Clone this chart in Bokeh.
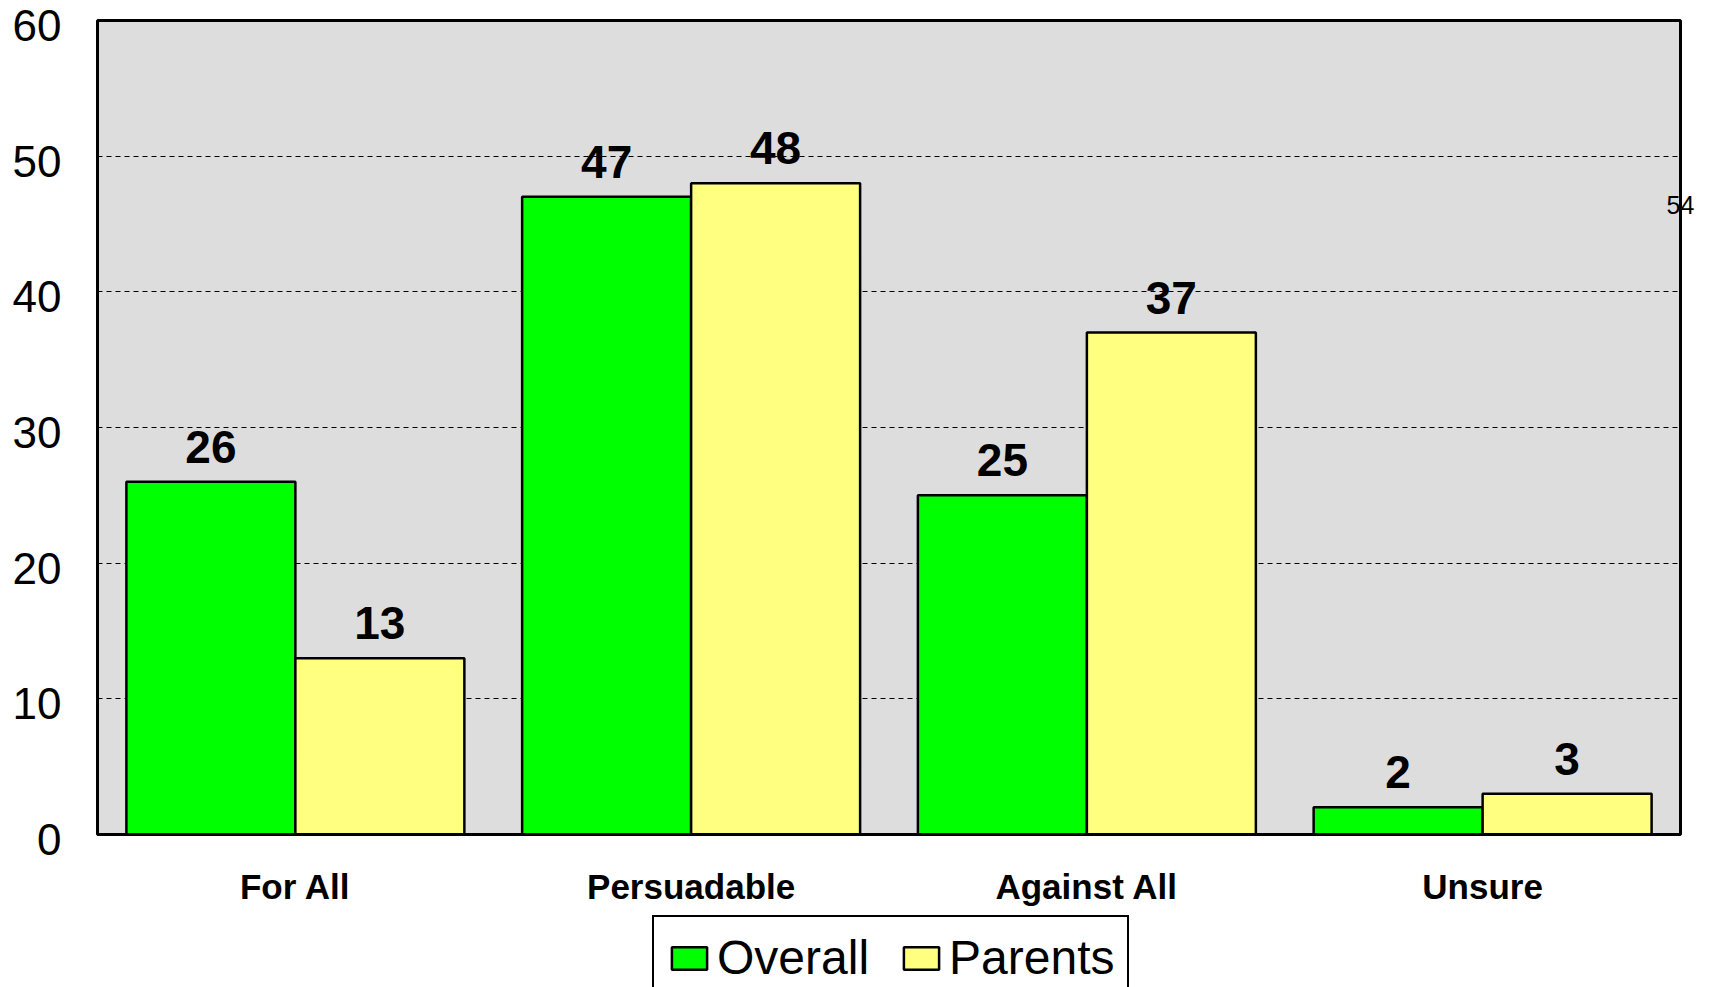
from bokeh.plotting import figure
from bokeh.layouts import column
from bokeh.models import (ColumnDataSource, Range1d, Legend, LegendItem, Label, LinearAxis,
                          FixedTicker, Grid, BoxAnnotation)
from bokeh.transform import dodge
from bokeh.core.properties import value
from bokeh.embed import file_html
from bokeh.resources import INLINE

categories = ["For All", "Persuadable", "Against All", "Unsure"]
overall = [26, 47, 25, 2]
parents = [13, 48, 37, 3]
series_names = ["Overall", "Parents"]
y_ticks = [0, 10, 20, 30, 40, 50, 60]
page_number = "54"

FONT = "Liberation Sans"
GREEN = "#00FF00"
YELLOW = "#FFFF80"
GRAY = "#DDDDDD"

# geometry of the plot area (pixels)
W_FIG, H_MAIN, H_LEG = 1697, 908, 79
FL, FR, FT, FB = 95, 1697, 18, 844          # frame edges
AX0, AX1, AY0, AY1 = 97, 1680, 834, 20      # where x=0..4 and y=0..60 sit
ncat = len(categories)
px_x = (AX1 - AX0) / ncat
px_y = (AY0 - AY1) / (y_ticks[-1] - y_ticks[0])
x0 = -(AX0 - FL) / px_x
x1 = ncat + (FR - AX1) / px_x
y0 = -(FB - AY0) / px_y
y1 = y_ticks[-1] + (AY1 - FT) / px_y

xs = [i + 0.5 for i in range(ncat)]
src = ColumnDataSource(dict(x=xs, cat=categories, overall=overall, parents=parents,
                            overall_txt=[str(v) for v in overall],
                            parents_txt=[str(v) for v in parents]))

p = figure(x_range=Range1d(x0, x1), y_range=Range1d(y0, y1),
           x_axis_location=None, y_axis_location=None,
           width=W_FIG, height=H_MAIN, output_backend="svg", toolbar_location=None,
           min_border_left=FL, min_border_right=W_FIG - FR, min_border_top=FT,
           min_border_bottom=H_MAIN - FB)
for g in p.grid:
    g.visible = False

p.background_fill_color = "white"
p.border_fill_color = "white"
p.outline_line_color = None

# gray plot area, then dashed gridlines over it
p.add_layout(BoxAnnotation(left=0, right=ncat, bottom=y_ticks[0], top=y_ticks[-1],
                           fill_color=GRAY, fill_alpha=1, line_alpha=0, level="underlay"))
ygrid = Grid(dimension=1, ticker=FixedTicker(ticks=y_ticks), grid_line_color="black",
             grid_line_width=1.1, grid_line_dash="5 4", cross_bounds=(0, ncat))
p.add_layout(ygrid, "center")

BW = 0.427
off = BW / 2
r1 = p.vbar(x=dodge("x", -off), top="overall", width=BW, source=src,
            fill_color=GREEN, line_color="black", line_width=2.5)
r2 = p.vbar(x=dodge("x", off), top="parents", width=BW, source=src,
            fill_color=YELLOW, line_color="black", line_width=2.5)

for col, sign in (("overall_txt", -1), ("parents_txt", 1)):
    ycol = col.replace("_txt", "")
    p.text(x=dodge("x", sign * off), y=ycol, text=col, source=src,
           text_align="center", text_baseline="bottom", y_offset=-19,
           text_font=value(FONT), text_font_style="bold", text_font_size="46px",
           text_color="black")

# y axis (labels sit slightly below their gridlines, as in the original)
shift = 5 / px_y
p.extra_y_ranges = {"lab": Range1d(y0 + shift, y1 + shift)}
yaxis = LinearAxis(y_range_name="lab", ticker=FixedTicker(ticks=y_ticks))
yaxis.axis_line_color = None
yaxis.major_tick_line_color = None
yaxis.minor_tick_line_color = None
yaxis.major_tick_out = 0
yaxis.major_tick_in = 0
yaxis.major_label_standoff = 34
yaxis.major_label_text_font = FONT
yaxis.major_label_text_font_size = "44px"
yaxis.major_label_text_color = "black"
p.add_layout(yaxis, "left")

# x axis with category names
xaxis = LinearAxis(ticker=FixedTicker(ticks=xs),
                   major_label_overrides={x: c for x, c in zip(xs, categories)})
xaxis.axis_line_color = None
xaxis.major_tick_line_color = None
xaxis.minor_tick_line_color = None
xaxis.major_tick_out = 0
xaxis.major_tick_in = 0
xaxis.major_label_standoff = 22
xaxis.major_label_text_font = FONT
xaxis.major_label_text_font_style = "bold"
xaxis.major_label_text_font_size = "35px"
xaxis.major_label_text_color = "black"
p.add_layout(xaxis, "below")

# plot box border and page number
p.add_layout(BoxAnnotation(left=0, right=ncat, bottom=y_ticks[0], top=y_ticks[-1],
                           fill_alpha=0, line_color="black", line_alpha=1, line_width=3,
                           level="overlay"))
p.add_layout(Label(x=ncat, y=46.4, text=page_number, text_align="center",
                   text_baseline="middle", text_font=FONT, text_font_size="25px",
                   text_color="black", level="overlay"))

# legend strip below
q = figure(x_range=Range1d(0, 1), y_range=Range1d(0, 1), x_axis_location=None,
           y_axis_location=None, width=W_FIG, height=H_LEG, output_backend="svg",
           toolbar_location=None, min_border=0)
for g in q.grid:
    g.visible = False
q.outline_line_color = None
q.background_fill_color = "white"
q.border_fill_color = "white"
e = ColumnDataSource(dict(x=[0.5], top=[float("nan")]))
l1 = q.vbar(x="x", top="top", width=0.1, source=e, fill_color=GREEN, line_color="black",
            line_width=2.5)
l2 = q.vbar(x="x", top="top", width=0.1, source=e, fill_color=YELLOW, line_color="black",
            line_width=2.5)
legend = Legend(items=[LegendItem(label=series_names[0], renderers=[l1]),
                       LegendItem(label=series_names[1], renderers=[l2])],
                orientation="horizontal", location=(557, -13),
                label_text_font=FONT, label_text_font_size="48px", label_text_color="black",
                glyph_width=44, glyph_height=28, label_standoff=6, spacing=30,
                padding=13, margin=0, border_line_color="black", border_line_alpha=1,
                border_line_width=2.5,
                background_fill_color="white", background_fill_alpha=1)
q.add_layout(legend, "center")

layout = column(p, q, spacing=0)
open("out.html", "w").write(file_html(layout, INLINE))
